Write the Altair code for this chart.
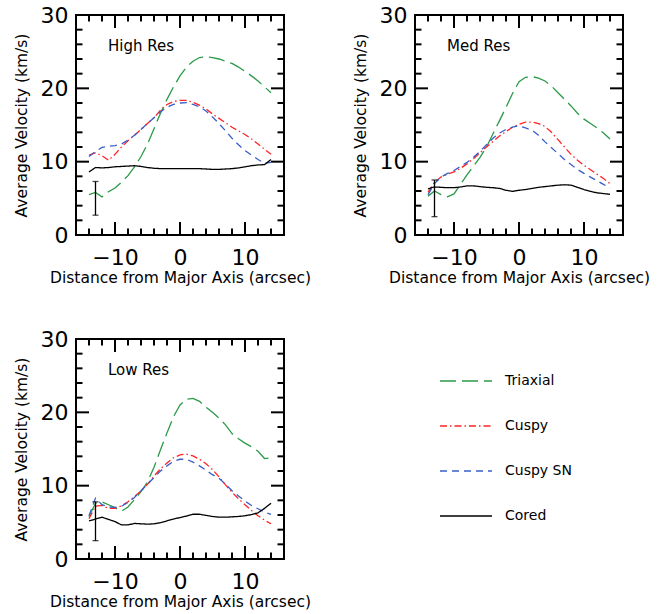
import altair as alt
import pandas as pd

# ---------------- data ----------------
xs = list(range(-14, 15))
series = ["Triaxial", "Cuspy", "Cuspy SN", "Cored"]
colors = ["#2a9a48", "#ff2424", "#3a5fc8", "#000000"]
dashes = [[16, 6], [7, 3, 1.5, 3], [7, 5], [1, 0]]
panels = ["High Res", "Med Res", "Low Res"]

high_triaxial = [5.5, 5.8, 5.2, 5.9, 6.4, 7.2, 8.1, 9.3, 10.7, 12.4, 14.5, 16.6, 18.5, 20.2, 21.7,
                 22.9, 23.7, 24.2, 24.3, 24.2, 24.0, 23.7, 23.4, 22.9, 22.3, 21.7, 21.0, 20.2, 19.4]
high_cuspy = [10.9, 11.2, 10.8, 10.2, 11.0, 12.0, 12.85, 13.6, 14.4, 15.2, 16.0, 17.0, 17.8, 18.2, 18.35,
              18.35, 18.1, 17.7, 17.2, 16.5, 15.9, 15.3, 14.7, 14.2, 13.7, 13.1, 12.4, 11.7, 11.0]
high_cuspysn = [10.7, 11.4, 11.95, 12.1, 12.2, 12.4, 12.95, 13.6, 14.4, 15.2, 16.0, 16.8, 17.4, 17.8, 18.0,
                18.05, 17.8, 17.5, 16.9, 16.1, 15.2, 14.2, 13.2, 12.3, 11.5, 10.9, 10.3, 9.8, 9.9]
high_cored = [8.6, 9.2, 9.15, 9.2, 9.3, 9.35, 9.4, 9.45, 9.35, 9.2, 9.1, 9.05, 9.05, 9.05, 9.05,
              9.05, 9.05, 9.05, 9.0, 8.95, 8.95, 9.0, 9.05, 9.15, 9.3, 9.45, 9.55, 9.6, 10.3]

med_triaxial = [5.3, 6.0, 5.5, 5.2, 5.6, 6.9, 8.2, 9.4, 10.6, 12.0, 13.8, 15.6, 17.4, 19.3, 20.9,
                21.5, 21.6, 21.4, 21.0, 20.3, 19.4, 18.5, 17.6, 16.6, 15.8, 15.2, 14.6, 13.9, 13.1]
med_cuspy = [5.8, 7.2, 7.9, 8.3, 8.6, 9.1, 9.7, 10.4, 11.2, 12.0, 12.75, 13.5, 14.1, 14.7, 15.1,
             15.4, 15.4, 15.2, 14.8, 14.0, 13.0, 12.0, 11.0, 10.2, 9.5, 8.9, 8.3, 7.7, 7.0]
med_cuspysn = [5.5, 7.0, 7.9, 8.4, 8.8, 9.35, 9.9, 10.6, 11.4, 12.3, 13.2, 13.9, 14.4, 14.7, 14.9,
               14.6, 14.3, 13.6, 12.7, 11.9, 11.1, 10.3, 9.6, 8.95, 8.4, 7.9, 7.4, 6.9, 6.4]
med_cored = [6.3, 6.55, 6.5, 6.45, 6.45, 6.55, 6.7, 6.7, 6.6, 6.5, 6.45, 6.35, 6.1, 5.95, 6.1,
             6.2, 6.35, 6.5, 6.6, 6.7, 6.8, 6.85, 6.8, 6.5, 6.2, 5.95, 5.75, 5.65, 5.55]

low_triaxial = [5.8, 7.6, 7.8, 7.4, 7.0, 6.5, 7.1, 8.1, 9.2, 10.5, 12.5, 14.9, 17.2, 19.4, 21.0,
                21.8, 21.9, 21.5, 20.7, 20.0, 19.2, 18.3, 17.1, 16.4, 15.8, 15.3, 14.7, 13.7, 13.8]
low_cuspy = [5.5, 7.2, 7.3, 6.9, 6.9, 7.25, 7.8, 8.5, 9.3, 10.2, 11.3, 12.3, 13.1, 13.8, 14.2,
             14.3, 14.05, 13.6, 13.0, 12.2, 11.2, 10.1, 9.1, 8.2, 7.4, 6.6, 5.9, 5.3, 4.8]
low_cuspysn = [5.9, 8.3, 7.4, 7.1, 7.05, 7.2, 7.7, 8.4, 9.3, 10.2, 11.1, 12.0, 12.7, 13.3, 13.6,
               13.6, 13.2, 12.7, 12.1, 11.5, 11.0, 10.2, 9.3, 8.6, 7.9, 7.3, 6.85, 6.4, 6.1]
low_cored = [5.2, 5.45, 5.7, 5.4, 5.1, 4.65, 4.65, 4.85, 4.8, 4.75, 4.8, 4.95, 5.2, 5.45, 5.65,
             5.85, 6.1, 6.1, 5.95, 5.8, 5.7, 5.7, 5.75, 5.8, 5.9, 6.05, 6.3, 6.9, 7.6]

err_x = [-13, -13, -13]
err_lo = [2.7, 2.5, 2.5]
err_hi = [7.3, 7.5, 7.8]

x_major = [-10, 0, 10]
x_minor = [-14, -12, -8, -6, -4, -2, 2, 4, 6, 8, 12, 14]
y_major = [0, 10, 20, 30]
y_minor = [2, 4, 6, 8, 12, 14, 16, 18, 22, 24, 26, 28]

panel_values = [
    [high_triaxial, high_cuspy, high_cuspysn, high_cored],
    [med_triaxial, med_cuspy, med_cuspysn, med_cored],
    [low_triaxial, low_cuspy, low_cuspysn, low_cored],
]

# ---------------- chart ----------------
W, H = 208, 220
MAJ, MIN = 13, 6.5
TW = 2
FONT = "DejaVu Sans"

xscale = alt.Scale(domain=[-16, 16], nice=False, zero=False)
yscale = alt.Scale(domain=[0, 30], nice=False, zero=False)
xaxis = alt.Axis(values=x_major, title="Distance from Major Axis (arcsec)")
yaxis = alt.Axis(values=y_major, title="Average Velocity (km/s)")


def X(field):
    return alt.X(f"{field}:Q", scale=xscale, axis=xaxis)


def Y(field):
    return alt.Y(f"{field}:Q", scale=yscale, axis=yaxis)


def tick_layers():
    layers = []
    for vals, ln in ((x_major, MAJ), (x_minor, MIN)):
        d = pd.DataFrame({"x": vals})
        layers.append(alt.Chart(d).mark_rule(color="black", strokeWidth=TW).encode(
            x=X("x"), y=alt.value(H), y2=alt.value(H - ln)))
        layers.append(alt.Chart(d).mark_rule(color="black", strokeWidth=TW).encode(
            x=X("x"), y=alt.value(0), y2=alt.value(ln)))
    for vals, ln in ((y_major, MAJ), (y_minor, MIN)):
        d = pd.DataFrame({"v": vals})
        layers.append(alt.Chart(d).mark_rule(color="black", strokeWidth=TW).encode(
            y=Y("v"), x=alt.value(0), x2=alt.value(ln)))
        layers.append(alt.Chart(d).mark_rule(color="black", strokeWidth=TW).encode(
            y=Y("v"), x=alt.value(W), x2=alt.value(W - ln)))
    return layers


def make_panel(i):
    rows = []
    for s, vals in zip(series, panel_values[i]):
        for x, v in zip(xs, vals):
            rows.append({"x": x, "v": v, "series": s})
    df = pd.DataFrame(rows)
    lines = alt.Chart(df).mark_line(strokeWidth=1.3).encode(
        x=X("x"), y=Y("v"),
        color=alt.Color("series:N", scale=alt.Scale(domain=series, range=colors), legend=None),
        strokeDash=alt.StrokeDash("series:N", scale=alt.Scale(domain=series, range=dashes), legend=None),
        detail="series:N",
    )
    ed = pd.DataFrame({"x": [err_x[i]], "lo": [err_lo[i]], "hi": [err_hi[i]]})
    ebar = alt.Chart(ed).mark_rule(color="black", strokeWidth=1.3).encode(
        x=X("x"), y=Y("lo"), y2="hi:Q")
    cap_lo = alt.Chart(ed).mark_tick(color="black", orient="horizontal", size=6, thickness=1.3).encode(
        x=X("x"), y=Y("lo"))
    cap_hi = alt.Chart(ed).mark_tick(color="black", orient="horizontal", size=6, thickness=1.3).encode(
        x=X("x"), y=Y("hi"))
    lab = alt.Chart(pd.DataFrame({"label": [panels[i]]})).mark_text(
        align="left", baseline="alphabetic", font=FONT, fontSize=15, color="black").encode(
        x=alt.value(32), y=alt.value(36), text="label:N")
    return alt.layer(lines, *tick_layers(), ebar, cap_lo, cap_hi, lab).properties(width=W, height=H)


p1 = make_panel(0)
p2 = make_panel(1)
p3 = make_panel(2)

leg_df = pd.DataFrame({"series": series})
leg_y = alt.Y("series:N", sort=series,
              scale=alt.Scale(type="point", domain=series, range=[42, 177], padding=0), axis=None)
leg_lines = alt.Chart(leg_df).mark_rule(strokeWidth=1.3).encode(
    x=alt.value(0), x2=alt.value(52), y=leg_y,
    color=alt.Color("series:N", scale=alt.Scale(domain=series, range=colors), legend=None),
    strokeDash=alt.StrokeDash("series:N", scale=alt.Scale(domain=series, range=dashes), legend=None),
)
leg_text = alt.Chart(leg_df).mark_text(align="left", baseline="middle", font=FONT, fontSize=14, color="black").encode(
    x=alt.value(65), y=leg_y, text="series:N")
legend = alt.layer(leg_lines, leg_text).properties(
    width=200, height=H, view=alt.ViewBackground(stroke="transparent"))

top = alt.hconcat(p1, p2, spacing=40)
bottom = alt.hconcat(p3, legend, spacing=126)

chart = alt.vconcat(top, bottom, spacing=40).properties(
    padding={"left": 13, "top": 3, "right": 5, "bottom": 5}
).configure_view(
    stroke="black", strokeWidth=2
).configure_axis(
    labelFont=FONT, labelFontSize=22, labelColor="black",
    titleFont=FONT, titleFontSize=15.5, titleFontWeight="normal", titleColor="black",
    ticks=False, tickSize=0, domain=False, grid=False, labelOverlap=False,
).configure_axisX(
    labelPadding=12, titlePadding=2
).configure_axisY(
    labelPadding=8, titlePadding=11
)

chart.save("out.html", embed_options={"renderer": "svg", "actions": False})
